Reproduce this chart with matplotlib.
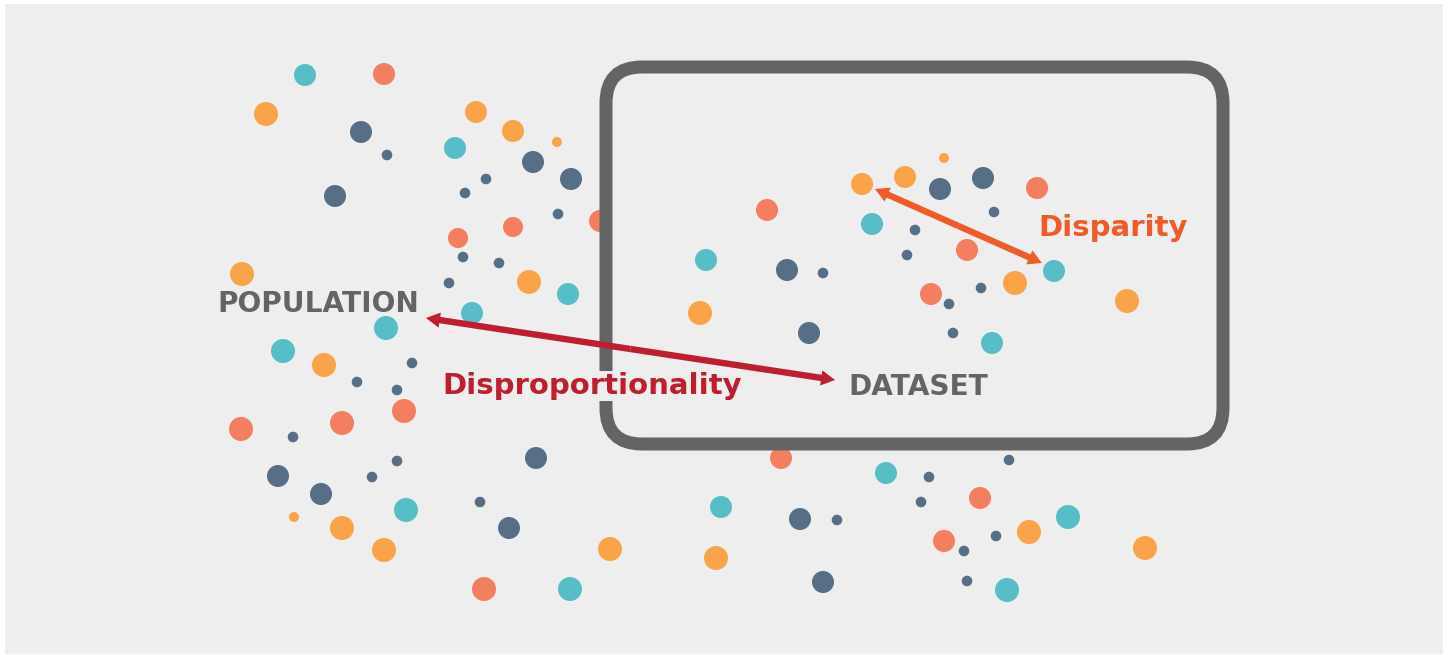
import matplotlib
matplotlib.use("Agg")
import matplotlib.pyplot as plt
from matplotlib.patches import Circle, Rectangle, FancyBboxPatch, FancyArrowPatch

# ---------------- data (pixel coordinates of the illustration) ----------------
teal_x = [305, 455, 472, 386, 283, 568, 406, 570, 872, 706, 992, 1054, 886, 721, 1068, 1007]
teal_y = [75, 148, 313, 328, 351, 294, 510, 589, 224, 260, 343, 271, 473, 507, 517, 590]
teal_r = [11, 11, 11, 12, 12, 11, 12, 12, 11, 11, 11, 11, 11, 11, 12, 12]

orange_x = [266, 476, 242, 324, 342, 384, 294, 513, 557, 529, 610, 700, 716, 862, 905, 944, 1015, 1127, 1029, 1145]
orange_y = [114, 112, 274, 365, 528, 550, 517, 131, 142, 282, 549, 313, 558, 184, 177, 158, 283, 301, 532, 548]
orange_r = [12, 11, 12, 12, 12, 12, 5, 11, 5, 12, 12, 12, 12, 11, 11, 5, 12, 12, 12, 12]

salmon_x = [384, 458, 404, 342, 241, 484, 513, 600, 767, 967, 931, 1037, 781, 980, 944]
salmon_y = [74, 238, 411, 423, 429, 589, 227, 221, 210, 250, 294, 188, 458, 498, 541]
salmon_r = [11, 10, 12, 12, 12, 12, 10, 11, 11, 11, 11, 11, 11, 11, 11]

navy_x = [361, 335, 533, 571, 278, 321, 536, 509, 940, 983, 787, 809, 800, 823,
          387, 486, 465, 558, 463, 499, 449, 412, 357, 397, 293, 397, 372, 480,
          994, 915, 907, 823, 981, 949, 953, 929, 921, 837, 996, 964, 967, 1009]
navy_y = [132, 196, 162, 179, 476, 494, 458, 528, 189, 178, 270, 333, 519, 582,
          155, 179, 193, 214, 257, 263, 283, 363, 382, 390, 437, 461, 477, 502,
          212, 230, 255, 273, 288, 304, 333, 477, 502, 520, 536, 551, 581, 460]
navy_r = [11] * 14 + [5.3] * 28

labels = ["POPULATION", "DATASET", "Disproportionality", "Disparity"]

# arrow end points (population <-> dataset, dot <-> dot)
red_arrow = [(426, 318), (835, 380)]
orange_arrow = [(875, 189), (1042, 263)]

# ---------------- figure ----------------
W, H = 1450, 655
fig = plt.figure(figsize=(W / 100, H / 100), dpi=100, facecolor="white")
ax = fig.add_axes([0, 0, 1, 1])
ax.set_xlim(0, W)
ax.set_ylim(H, 0)
ax.set_aspect("equal")
ax.axis("off")

ax.add_patch(Rectangle((5, 4), 1438, 650, facecolor="#eeeeee", edgecolor="none", zorder=0))

series = [
    (teal_x, teal_y, teal_r, "#57bec8"),
    (orange_x, orange_y, orange_r, "#f9a449"),
    (salmon_x, salmon_y, salmon_r, "#f47f60"),
    (navy_x, navy_y, navy_r, "#566f86"),
]
for xs, ys, rs, c in series:
    for x, y, r in zip(xs, ys, rs):
        ax.add_patch(Circle((x, y), r, facecolor=c, edgecolor="none", zorder=1))

# dataset frame
ax.add_patch(FancyBboxPatch((606, 67), 617, 377,
                            boxstyle="round,pad=0,rounding_size=36",
                            facecolor="none", edgecolor="#636466",
                            linewidth=13 * 0.72, zorder=2))

gray = "#636466"
font = ["DejaVu Sans"]
ax.text(217, 312, labels[0], fontsize=20.2, fontweight="bold", color=gray,
        family=font, ha="left", va="baseline", zorder=3)
ax.text(848, 395, labels[1], fontsize=20.2, fontweight="bold", color=gray,
        family=font, ha="left", va="baseline", zorder=3)
ax.text(442, 394, labels[2], fontsize=21, fontweight="bold", color="#be1e2d",
        family=font, ha="left", va="baseline", zorder=3,
        bbox=dict(boxstyle="square,pad=0.05", facecolor="#eeeeee", edgecolor="none"))
ax.text(1038, 236, labels[3], fontsize=21, fontweight="bold", color="#f15a29",
        family=font, ha="left", va="baseline", zorder=3)


def double_arrow(p, q, color):
    mid = ((p[0] + q[0]) / 2, (p[1] + q[1]) / 2)
    style = "simple,head_length=10,head_width=11,tail_width=4.6"
    for end in (p, q):
        ax.add_patch(FancyArrowPatch(mid, end, arrowstyle=style, mutation_scale=1,
                                     facecolor=color, edgecolor="none", linewidth=0,
                                     shrinkA=0, shrinkB=0, zorder=4))


double_arrow(red_arrow[0], red_arrow[1], "#be1e2d")
double_arrow(orange_arrow[0], orange_arrow[1], "#f15a29")

fig.savefig("out.png", dpi=100, facecolor="white")
